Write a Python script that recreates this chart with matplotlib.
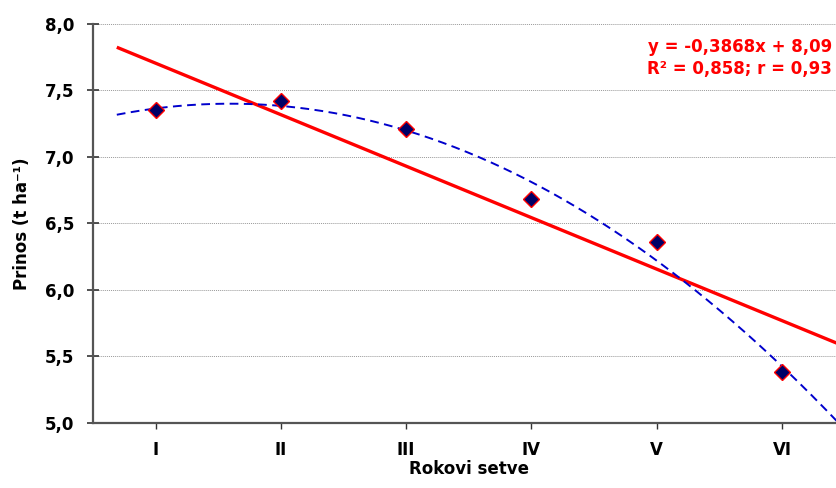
import numpy as np
import matplotlib
matplotlib.use("Agg")
import matplotlib.pyplot as plt
from matplotlib.ticker import FuncFormatter

plt.rcParams['font.family'] = ['DejaVu Sans']
plt.rcParams['font.weight'] = 'bold'

categories = ["I", "II", "III", "IV", "V", "VI"]
yields = [7.35, 7.42, 7.21, 6.68, 6.36, 5.38]
slope, intercept = -0.3868, 8.09
eq_text = "y = -0,3868x + 8,09\nR² = 0,858; r = 0,93"

x = np.arange(1, len(categories) + 1)

fig = plt.figure(figsize=(8.37, 4.88), dpi=100)
ax = fig.add_axes([93/837, 65/488, 751.6/837, 399.3/488])

xt = np.linspace(0.69, 6.45, 300)
# linear trend
ax.plot(xt, slope * xt + intercept, color='#ff0000', lw=2.4, zorder=3, solid_capstyle='butt')
# polynomial trend
coef = np.polyfit(x, yields, 2)
ax.plot(xt, np.polyval(coef, xt), color='#0000cc', lw=1.4, ls=(0, (4.5, 2.8)), zorder=3)

ax.plot(x, yields, ls='none', marker='D', markersize=8, markerfacecolor='#000066',
        markeredgecolor='#ff0000', markeredgewidth=1, zorder=4)

ax.set_xlim(0.5, 6.5)
ax.set_ylim(5.0, 8.0)
ax.set_xticks(x)
ax.set_xticklabels(categories, fontsize=12, fontweight='bold')
ax.set_yticks(np.arange(5.0, 8.01, 0.5))
ax.yaxis.set_major_formatter(FuncFormatter(lambda v, p: f"{v:.1f}".replace('.', ',')))
for lab in ax.get_yticklabels():
    lab.set_fontsize(12)
    lab.set_fontweight('bold')
ax.tick_params(axis='y', direction='inout', length=9, width=1.2, color='#333333', pad=9, labelsize=12)
ax.tick_params(axis='x', direction='out', length=4, width=1, color='#333333', pad=9, labelsize=12)

ax.grid(axis='y', color='#999999', ls=(0, (1, 1)), lw=0.7)
ax.set_axisbelow(True)
for s in ['top', 'right']:
    ax.spines[s].set_visible(False)
for s in ['left', 'bottom']:
    ax.spines[s].set_color('#555555')
    ax.spines[s].set_linewidth(1.6)

ax.set_ylabel("Prinos (t ha⁻¹)", fontsize=12, fontweight='bold', labelpad=10)
ax.set_xlabel("Rokovi setve", fontsize=12, fontweight='bold', labelpad=1)

fig.text(832/837, 1 - 38/488, eq_text, color='#ff0000', fontsize=12, fontweight='bold',
         ha='right', va='top', linespacing=1.3)

fig.savefig("out.png", dpi=100)
